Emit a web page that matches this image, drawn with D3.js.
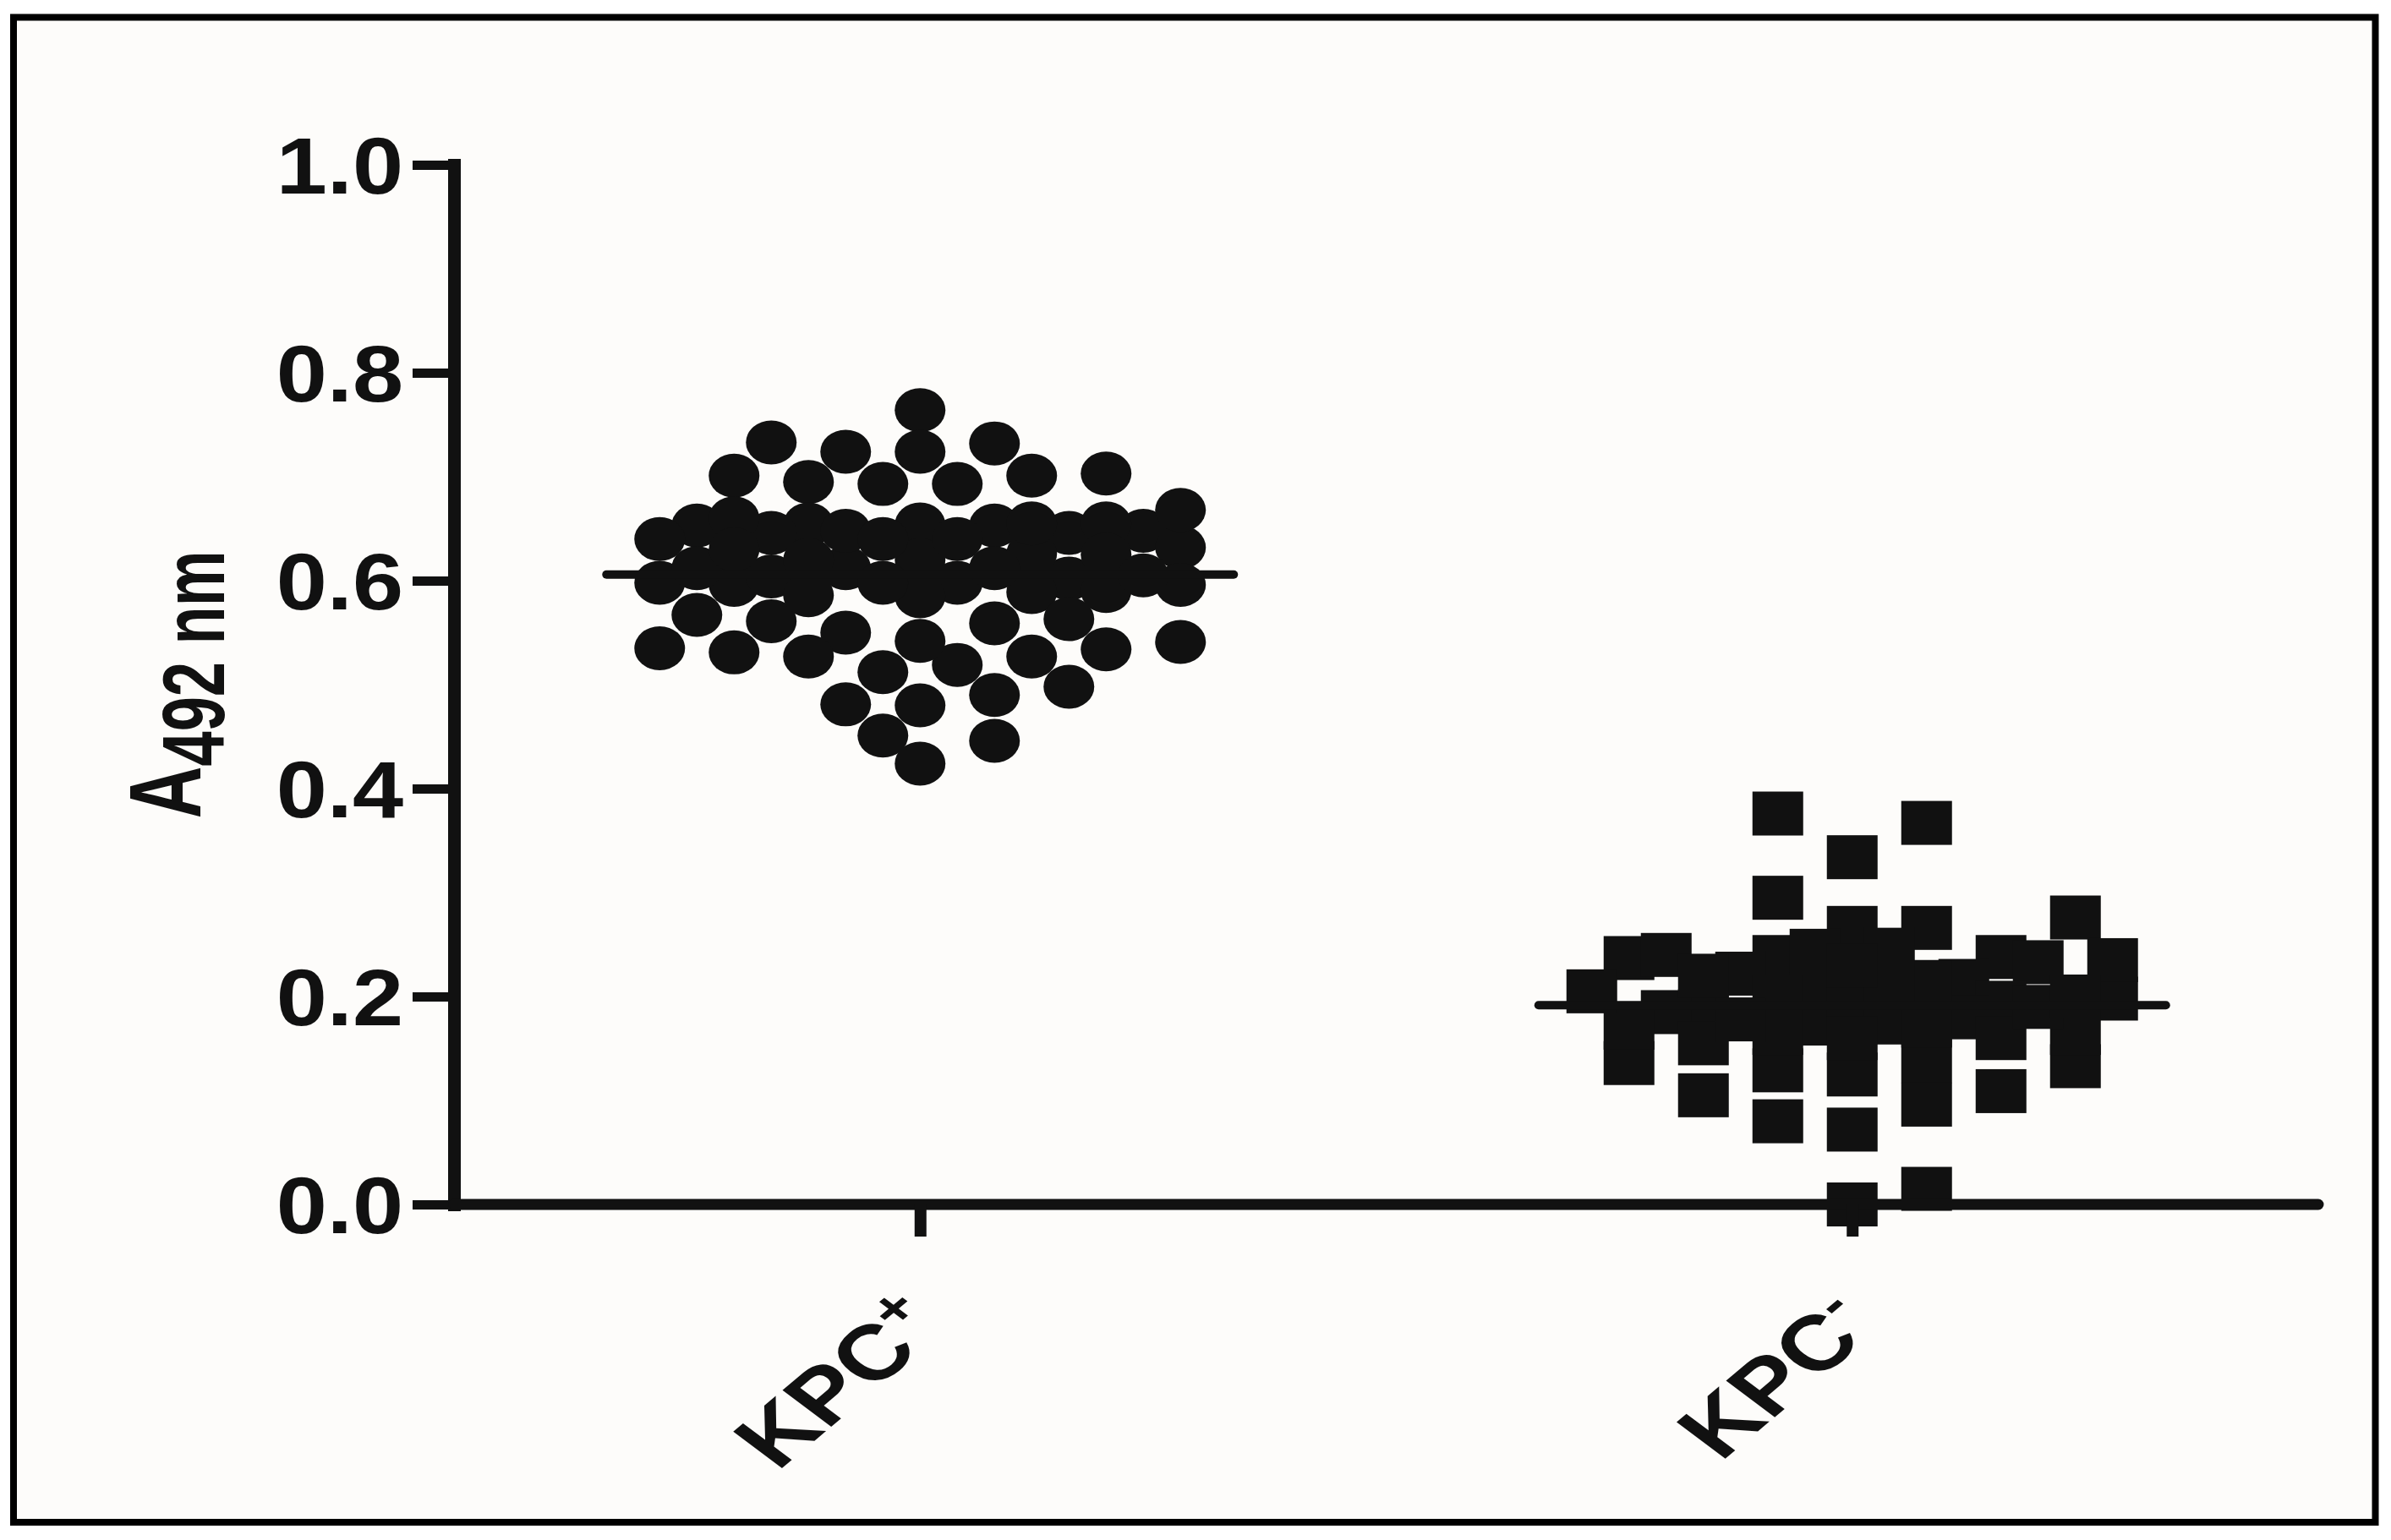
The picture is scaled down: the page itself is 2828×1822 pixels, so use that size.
<!DOCTYPE html>
<html>
<head>
<meta charset="utf-8">
<script src="https://cdn.jsdelivr.net/npm/d3@7"></script>
<style>
  html, body { margin: 0; padding: 0; background: #ffffff; }
  svg { display: block; }
</style>
</head>
<body>
<svg id="chart" width="2828" height="1822"></svg>
<script>
// ---------------- data ----------------
const categories = ["KPC", "KPC"];
const categorySup = ["+", "-"];
const yTicks = [0.0, 0.2, 0.4, 0.6, 0.8, 1.0];
const yLabelMain = "A";
const yLabelSub = "492 nm";

// KPC+ (circles), absorbance values
const kpcPositive = [
  0.764, 0.724, 0.732, 0.724, 0.733, 0.701, 0.701, 0.703, 0.695, 0.693, 0.693,
  0.653, 0.654, 0.646, 0.654, 0.653, 0.646, 0.602, 0.589, 0.598,
  0.567, 0.550, 0.527, 0.519, 0.541, 0.563, 0.534, 0.559, 0.535, 0.561,
  0.512, 0.542, 0.527, 0.531, 0.481, 0.498, 0.490, 0.480, 0.451, 0.424, 0.446,
  0.640, 0.612, 0.648, 0.620, 0.596, 0.655, 0.626, 0.598, 0.660, 0.632,
  0.604, 0.585, 0.668, 0.640, 0.612, 0.590, 0.655, 0.625, 0.598, 0.648,
  0.620, 0.596, 0.640, 0.612, 0.586, 0.630, 0.605
];

// KPC- (squares)
const kpcNegative = [
  0.367, 0.376, 0.334, 0.295, 0.276, 0.266, 0.266, 0.238, 0.238, 0.233,
  0.237, 0.186, 0.185, 0.125, 0.105, 0.109, 0.129, 0.136, 0.133, 0.138,
  0.080, 0.072, 0.096, 0.000, 0.015,
  0.215, 0.174, 0.194, 0.210, 0.170, 0.244, 0.205, 0.165, 0.222, 0.180,
  0.240, 0.192, 0.155, 0.214, 0.175, 0.245, 0.198, 0.160, 0.210, 0.172,
  0.235, 0.200, 0.165, 0.230, 0.190, 0.200, 0.160, 0.220, 0.178
];

const groups = [kpcPositive, kpcNegative];
const shapes = ["circle", "square"];

// ---------------- layout ----------------
const ink = "#111111";
const svg = d3.select("#chart");

// outer frame
svg.append("rect")
  .attr("x", 16).attr("y", 20.5)
  .attr("width", 2793.5).attr("height", 1780.5)
  .attr("fill", "#fdfcfa")
  .attr("stroke", "#000").attr("stroke-width", 8);

const plot = { left: 537, right: 2742, top: 195, bottom: 1425 };

const x = d3.scalePoint()
  .domain(d3.range(categories.length))
  .range([plot.left, plot.right])
  .padding(0.5);

const y = d3.scaleLinear()
  .domain([0, 1])
  .range([plot.bottom, plot.top]);

// ---------------- swarm placement (bounded column scatter) ----------------
const markW = 60, markH = 52, slotStep = 44, maxSlot = 7;
function swarm(values, shape) {
  const order = d3.range(values.length).sort((a, b) => values[a] - values[b]);
  const placed = [];
  const off = new Array(values.length);
  const thr = shape === "circle" ? 48 : 54;
  function clearance(px, py) {
    let c = Infinity;
    for (const p of placed) {
      const dx = (px - p.x) / 1.15, dy = py - p.y;
      const d = shape === "circle" ? Math.hypot(dx, dy) : Math.max(Math.abs(dx), Math.abs(dy));
      if (d < c) c = d;
    }
    return c;
  }
  let flip = false;
  for (const i of order) {
    const py = y(values[i]);
    let chosen = null, best = null, bestC = -1;
    for (let k = 0; k <= maxSlot && chosen === null; k++) {
      const slots = k === 0 ? [0] : (flip ? [-k, k] : [k, -k]);
      for (const s of slots) {
        const px = s * slotStep;
        const c = clearance(px, py);
        if (c >= thr) { chosen = px; break; }
        if (c > bestC + 0.5) { bestC = c; best = px; }
      }
    }
    if (chosen === null) chosen = best;
    if (chosen !== 0) flip = !flip;
    placed.push({ x: chosen, y: py });
    off[i] = chosen;
  }
  return off;
}

// ---------------- markers ----------------
groups.forEach((vals, gi) => {
  const offs = swarm(vals, shapes[gi]);
  const g = svg.append("g").attr("class", "series-" + gi);
  const pts = vals.map((v, i) => ({ v, dx: offs[i] }));
  if (shapes[gi] === "circle") {
    g.selectAll("ellipse").data(pts).join("ellipse")
      .attr("cx", d => x(gi) + d.dx)
      .attr("cy", d => y(d.v))
      .attr("rx", markW / 2)
      .attr("ry", markH / 2)
      .attr("fill", ink);
  } else {
    g.selectAll("rect").data(pts).join("rect")
      .attr("x", d => x(gi) + d.dx - markW / 2)
      .attr("y", d => y(d.v) - markH / 2)
      .attr("width", markW)
      .attr("height", markH)
      .attr("fill", ink);
  }
  // mean line
  const mean = d3.mean(vals);
  svg.append("line")
    .attr("x1", x(gi) - 371).attr("x2", x(gi) + 371)
    .attr("y1", y(mean)).attr("y2", y(mean))
    .attr("stroke", ink).attr("stroke-width", 10)
    .attr("stroke-linecap", "round");
});

// ---------------- axes ----------------
const yAxis = d3.axisLeft(y)
  .tickValues(yTicks)
  .tickFormat(d3.format(".1f"))
  .tickSize(49)
  .tickSizeOuter(0)
  .tickPadding(11);

const gy = svg.append("g")
  .attr("transform", `translate(${plot.left},0)`)
  .call(yAxis);
gy.select(".domain").attr("stroke", ink).attr("stroke-width", 15).attr("stroke-linecap", "square");
gy.selectAll(".tick line").attr("stroke", ink).attr("stroke-width", 11);
const tickScaleX = 1.15;
gy.selectAll(".tick text")
  .attr("fill", ink)
  .attr("font-family", "'Liberation Sans', Arial, sans-serif")
  .attr("font-weight", "bold")
  .attr("font-size", 94)
  .attr("x", -60 / tickScaleX)
  .attr("dy", "0.36em")
  .attr("transform", `scale(${tickScaleX},1)`);

const xAxis = d3.axisBottom(x)
  .tickSize(38)
  .tickSizeOuter(0)
  .tickFormat("");

const gx = svg.append("g")
  .attr("transform", `translate(0,${plot.bottom})`)
  .call(xAxis);
gx.select(".domain").attr("stroke", ink).attr("stroke-width", 13).attr("stroke-linecap", "round")
  .attr("d", `M${plot.left},0H${plot.right}`);
gx.selectAll(".tick line").attr("stroke", ink).attr("stroke-width", 14);

// category labels (rotated and sheared like the original)
categories.forEach((c, i) => {
  const t = svg.append("text")
    .attr("transform", `translate(${x(i) + 33},1572) matrix(0.919,-0.772,0.952,0.714,0,0)`)
    .attr("text-anchor", "end")
    .attr("font-family", "'Liberation Sans', Arial, sans-serif")
    .attr("font-weight", "bold")
    .attr("font-size", 88)
    .attr("fill", ink);
  t.append("tspan").text(c);
  t.append("tspan").attr("font-size", 58).attr("dy", -32).text(categorySup[i]);
});

// y-axis title
const yl = svg.append("text")
  .attr("transform", `translate(237,${(plot.top + plot.bottom) / 2}) scale(1.4,1) rotate(-90)`)
  .attr("text-anchor", "middle")
  .attr("font-family", "'Liberation Sans', Arial, sans-serif")
  .attr("font-weight", "bold")
  .attr("fill", ink);
yl.append("tspan").attr("font-size", 86).text(yLabelMain);
yl.append("tspan").attr("font-size", 74).attr("dy", 20).text(yLabelSub);
</script>
</body>
</html>
